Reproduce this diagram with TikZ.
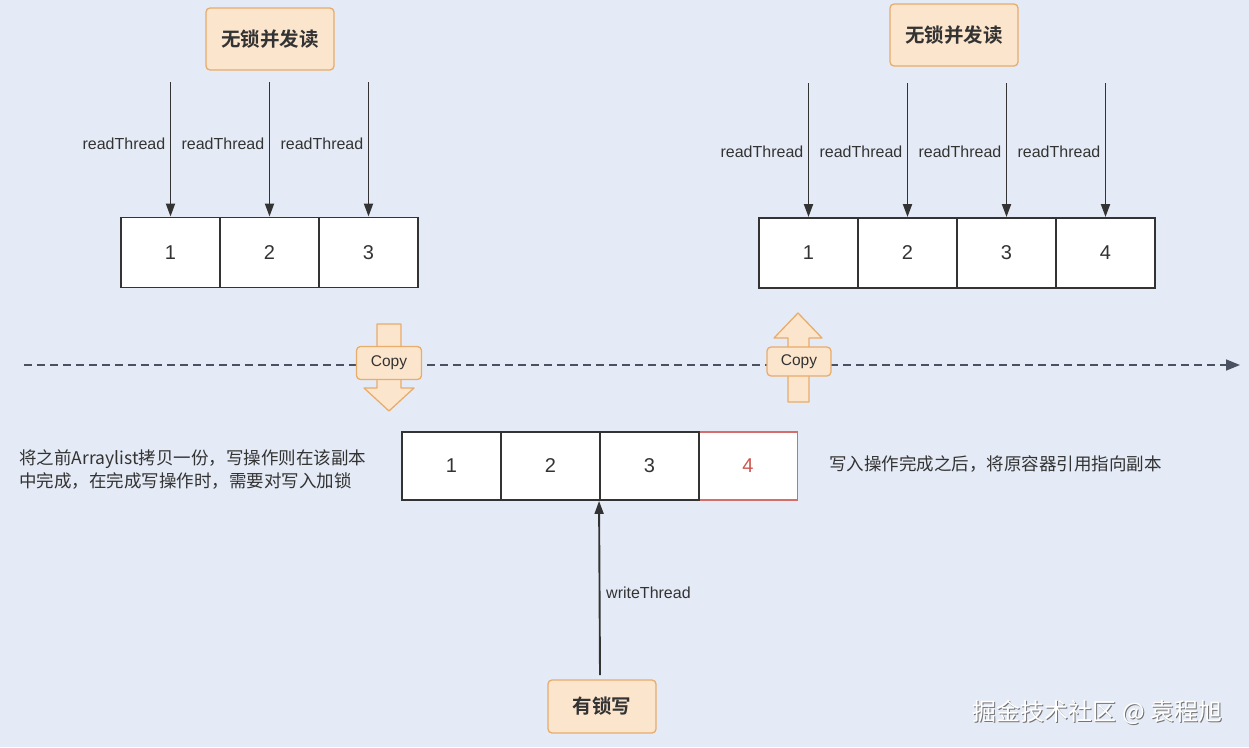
\documentclass[tikz,border=0pt]{standalone}
\usepackage{fontspec}
\setmainfont{Liberation Sans}
\newfontfamily\cjk{Noto Sans CJK SC}[BoldFont={Noto Sans CJK SC Bold}]
\usetikzlibrary{arrows.meta}
\definecolor{bg}{RGB}{229,235,246}
\definecolor{ink}{RGB}{51,51,51}
\definecolor{boxfill}{RGB}{252,229,205}
\definecolor{boxline}{RGB}{232,172,108}
\definecolor{redc}{RGB}{205,85,78}
\definecolor{dashc}{RGB}{74,81,96}
\tikzset{
  cell/.style={draw=ink, line width=1.9pt, fill=white, minimum width=99pt, minimum height=70pt, inner sep=0pt, font=\fontsize{20}{20}\selectfont, text=ink},
  redcell/.style={cell, draw=redc!85, text=redc},
  tag/.style={draw=boxline, line width=1.3pt, fill=boxfill, rounded corners=4pt, inner sep=0pt, font=\cjk\bfseries\fontsize{19.5}{20}\selectfont, text=ink},
  lbl/.style={font=\fontsize{16}{16}\selectfont, text=ink, inner sep=0pt},
  note/.style={font=\cjk\fontsize{17.5}{23}\selectfont, text=ink, inner sep=0pt},
  thr/.style={draw=ink, line width=1.9pt, -{Triangle[length=13pt,width=9pt]}},
  copyshape/.style={draw=boxline, line width=1.3pt, fill=boxfill, line join=round},
}
\begin{document}
\begin{tikzpicture}[x=1pt,y=-1pt]
\fill[bg] (0,0) rectangle (1249,747);
\useasboundingbox (0,0) rectangle (1249,747);

% top-left
\node[tag, minimum width=128pt, minimum height=62pt] (tl) at (270,39) {无锁并发读};
\node[cell] (a1) at (170.5,252.5) {1};
\node[cell] (a2) at (269.5,252.5) {2};
\node[cell] (a3) at (368.5,252.5) {3};
\foreach \i/\x in {1/170.5,2/269.5,3/368.5}{
  \coordinate (as\i) at (\x,82);
  \draw[thr] (as\i) -- (a\i.north);
  \node[lbl, anchor=east] (al\i) at (\x-5,144) {readThread};
}

% top-right
\node[tag, minimum width=128pt, minimum height=62pt] (tr) at (954,35) {无锁并发读};
\node[cell] (b1) at (808.5,253) {1};
\node[cell] (b2) at (907.5,253) {2};
\node[cell] (b3) at (1006.5,253) {3};
\node[cell] (b4) at (1105.5,253) {4};
\foreach \i/\x in {1/808.5,2/907.5,3/1006.5,4/1105.5}{
  \coordinate (bs\i) at (\x,83);
  \draw[thr] (bs\i) -- (b\i.north);
  \node[lbl, anchor=east] (bl\i) at (\x-5,152) {readThread};
}

% dashed timeline
\coordinate (ds) at (24,365);
\coordinate (de) at (1240,365);
\draw[dashc, line width=1.6pt, dash pattern=on 8pt off 5pt, -{Triangle[length=14pt,width=11pt]}] (ds) -- (de);

% copy down
\draw[copyshape] (377,324) -- (401,324) -- (401,388) -- (414,388) -- (389,411) -- (364,388) -- (377,388) -- cycle;
\node[copyshape, rounded corners=4pt, minimum width=65pt, minimum height=33pt, inner sep=0pt, font=\fontsize{15.5}{16}\selectfont, text=ink] (c1) at (389,363) {Copy};

% copy up
\draw[copyshape] (788,402) -- (809,402) -- (809,338) -- (822,338) -- (798,313) -- (774,338) -- (788,338) -- cycle;
\node[copyshape, rounded corners=4pt, minimum width=64pt, minimum height=29pt, inner sep=0pt, font=\fontsize{15.5}{16}\selectfont, text=ink] (c2) at (799,361.5) {Copy};

% middle array
\node[redcell, minimum height=68pt] (m4) at (748,466) {4};
\node[cell, minimum height=68pt] (m1) at (451.5,466) {1};
\node[cell, minimum height=68pt] (m2) at (550.5,466) {2};
\node[cell, minimum height=68pt] (m3) at (649.5,466) {3};

\node[note, anchor=west, align=left] (lt) at (19,469.5) {将之前Arraylist拷贝一份，写操作则在该副本\\中完成，在完成写操作时，需要对写入加锁};
\node[note, anchor=west] (rt) at (829,464) {写入操作完成之后，将原容器引用指向副本};

% write
\node[tag, minimum width=108pt, minimum height=53pt] (wb) at (602,706.5) {有锁写};
\coordinate (ws) at (600,675);
\draw[thr] (ws) -- (m3.south west);
\node[lbl, anchor=west] (wl) at (606,593) {writeThread};

% watermark
\node[font=\cjk\fontsize{24}{24}\selectfont, text=black!55, inner sep=0pt] (wm0) at (1098.5,713) {掘金技术社区 @ 袁程旭};
\node[font=\cjk\fontsize{24}{24}\selectfont, text=white, inner sep=0pt] (wm) at (1097.5,712) {掘金技术社区 @ 袁程旭};
\end{tikzpicture}
\end{document}
